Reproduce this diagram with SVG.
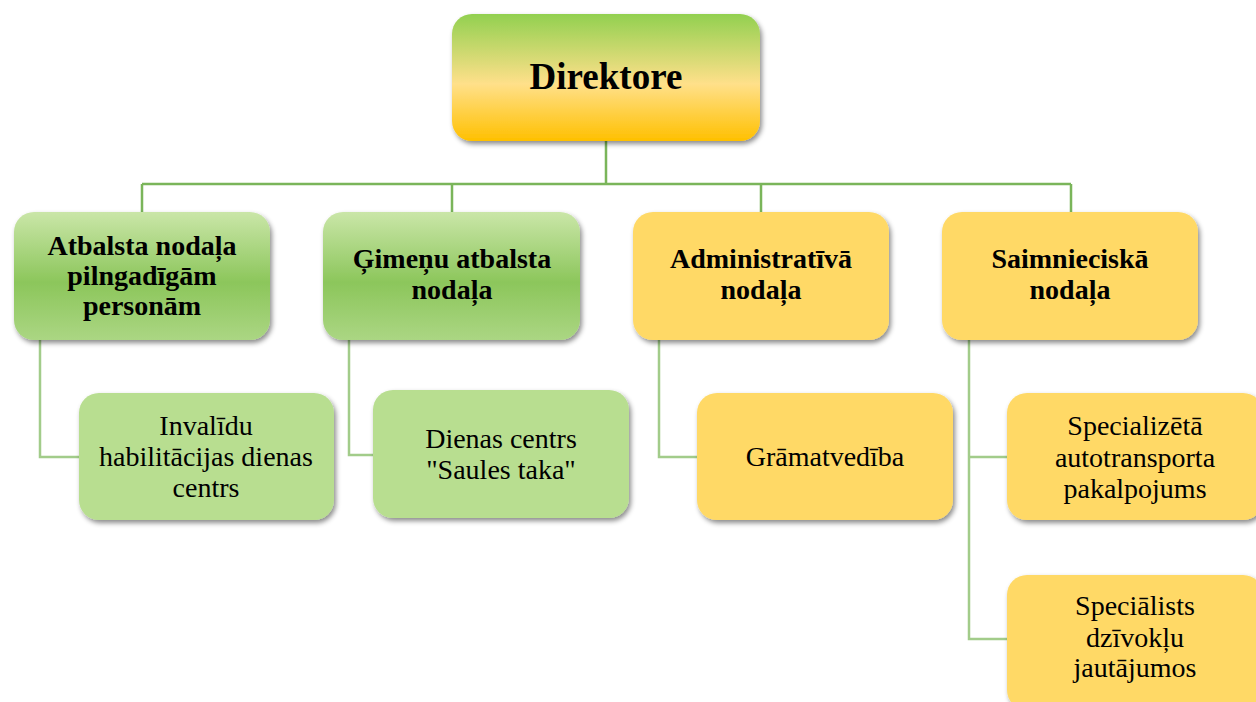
<svg xmlns="http://www.w3.org/2000/svg" width="1256" height="702" viewBox="0 0 1256 702">
<defs>
<linearGradient id="gDir" x1="0" y1="0" x2="0" y2="1">
<stop offset="0" stop-color="#92D050"/>
<stop offset="0.55" stop-color="#FFE08A"/>
<stop offset="1" stop-color="#FFC000"/>
</linearGradient>
<linearGradient id="gGreen" x1="0" y1="0" x2="0" y2="1">
<stop offset="0" stop-color="#CAE6A8"/>
<stop offset="0.55" stop-color="#8CC65B"/>
<stop offset="1" stop-color="#ABD683"/>
</linearGradient>
<filter id="sh" x="-10%" y="-10%" width="125%" height="130%">
<feDropShadow dx="2" dy="3" stdDeviation="2.5" flood-color="#000" flood-opacity="0.45"/>
</filter>
<style>
.l1 { stroke:#7AB55A; stroke-width:2.5; fill:none; }
.l2 { stroke:#A2CC8A; stroke-width:2.5; fill:none; }
text { font-family:'Liberation Serif','Times New Roman',serif; fill:#000; text-anchor:middle; }
.b { font-weight:bold; font-size:28px; }
.r { font-size:28px; }
.d { font-weight:bold; font-size:37px; }
.yel { fill:#FFD966; }
.lg { fill:#B8DE90; }
</style>
</defs>
<rect width="1256" height="702" fill="#fff"/>
<g id="connectors">
<path class="l1" d="M606,141 V184 M142,184 H1071 M142,184 V212 M452,184 V212 M761,184 V212 M1071,184 V212"/>
<path class="l2" d="M40,340 V457 H79"/>
<path class="l2" d="M349,340 V455 H373"/>
<path class="l2" d="M659,340 V457 H697"/>
<path class="l2" d="M969,340 V639 H1007 M969,457 H1007"/>
</g>
<g id="direktore">
<rect x="452" y="14" width="308" height="127" rx="20" fill="url(#gDir)" filter="url(#sh)"/>
<text class="d" x="606" y="89">Direktore</text>
</g>
<g id="atbalsta">
<rect x="14" y="212" width="256" height="128" rx="20" fill="url(#gGreen)" filter="url(#sh)"/>
<text class="b" x="142" y="255">Atbalsta nodaļa</text>
<text class="b" x="142" y="285">pilngadīgām</text>
<text class="b" x="142" y="315">personām</text>
</g>
<g id="gimenu">
<rect x="323" y="212" width="257" height="128" rx="20" fill="url(#gGreen)" filter="url(#sh)"/>
<text class="b" x="452" y="268">Ģimeņu atbalsta</text>
<text class="b" x="452" y="299">nodaļa</text>
</g>
<g id="administrativa">
<rect x="633" y="212" width="256" height="128" rx="20" class="yel" filter="url(#sh)"/>
<text class="b" x="761" y="268">Administratīvā</text>
<text class="b" x="761" y="299">nodaļa</text>
</g>
<g id="saimnieciska">
<rect x="942" y="212" width="256" height="128" rx="20" class="yel" filter="url(#sh)"/>
<text class="b" x="1070" y="268">Saimnieciskā</text>
<text class="b" x="1070" y="299">nodaļa</text>
</g>
<g id="invalidu">
<rect x="79" y="393" width="255" height="127" rx="20" class="lg" filter="url(#sh)"/>
<text class="r" x="206" y="435">Invalīdu</text>
<text class="r" x="206" y="466">habilitācijas dienas</text>
<text class="r" x="206" y="497">centrs</text>
</g>
<g id="dienas">
<rect x="373" y="390" width="256" height="128" rx="20" class="lg" filter="url(#sh)"/>
<text class="r" x="501" y="448">Dienas centrs</text>
<text class="r" x="501" y="479">"Saules taka"</text>
</g>
<g id="gramatvediba">
<rect x="697" y="393" width="256" height="127" rx="20" class="yel" filter="url(#sh)"/>
<text class="r" x="825" y="466">Grāmatvedība</text>
</g>
<g id="autotransports">
<rect x="1007" y="393" width="256" height="127" rx="20" class="yel" filter="url(#sh)"/>
<text class="r" x="1135" y="435">Specializētā</text>
<text class="r" x="1135" y="467">autotransporta</text>
<text class="r" x="1135" y="498">pakalpojums</text>
</g>
<g id="specialists">
<rect x="1007" y="575" width="256" height="135" rx="20" class="yel" filter="url(#sh)"/>
<text class="r" x="1135" y="615">Speciālists</text>
<text class="r" x="1135" y="647">dzīvokļu</text>
<text class="r" x="1135" y="677">jautājumos</text>
</g>
</svg>
